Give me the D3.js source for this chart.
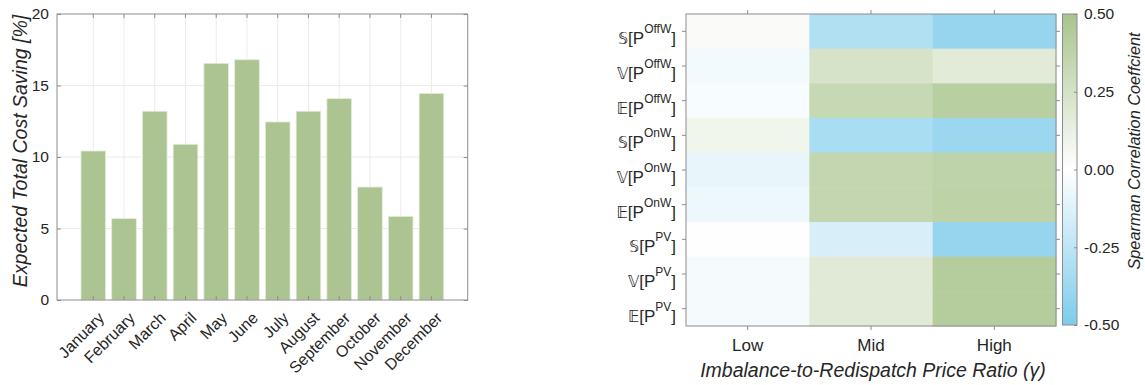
<!DOCTYPE html>
<html>
<head>
<meta charset="utf-8">
<title>Cost saving and correlation</title>
<script src="https://cdn.jsdelivr.net/npm/d3@7"></script>
<style>
  body { margin: 0; background: #fff; }
  svg { font-family: "Liberation Sans", Arial, sans-serif; }
  .rowlab { opacity: 0.99; }
</style>
</head>
<body>
<script>
// bar chart data
var months = ["January", "February", "March", "April", "May", "June",
              "July", "August", "September", "October", "November", "December"];
var saving = [10.42, 5.69, 13.2, 10.89, 16.55, 16.8, 12.45, 13.2, 14.08, 7.9, 5.85, 14.45];
var savingTicks = [0, 5, 10, 15, 20];

// heatmap data (rows top -> bottom, columns Low / Mid / High)
var rowStat = ["\u{1D54A}", "\u{1D54D}", "\u{1D53C}", "\u{1D54A}", "\u{1D54D}", "\u{1D53C}", "\u{1D54A}", "\u{1D54D}", "\u{1D53C}"];
var rowSup = ["OffW", "OffW", "OffW", "OnW", "OnW", "OnW", "PV", "PV", "PV"];
var ratioCats = ["Low", "Mid", "High"];
var rhoLow  = [0.03, -0.05, -0.03, 0.08, -0.09, -0.07, 0.01, -0.04, -0.04];
var rhoMid  = [-0.30, 0.24, 0.33, -0.33, 0.35, 0.35, -0.15, 0.18, 0.18];
var rhoHigh = [-0.40, 0.17, 0.41, -0.38, 0.37, 0.38, -0.40, 0.43, 0.43];
var cbarTicks = [-0.5, -0.25, 0, 0.25, 0.5];

var W = 1145, H = 385;
var axisCol = "#8c8c8c", textCol = "#262626", gridCol = "#ebebeb";
var green = "#a9c48d", blue = "#7dcbeb";
var numSize = 15.5, wordSize = 17, labelSize = 19.5;

var svg = d3.select("body").append("svg")
    .attr("width", W).attr("height", H);

// ---------- left: bar chart ----------
var L = {left: 57, right: 467.7, top: 14, bottom: 300};
var x = d3.scaleBand().domain(months).range([L.left, L.right])
    .paddingInner(0.2).paddingOuter(0.78);
var y = d3.scaleLinear().domain([0, 20]).range([L.bottom, L.top]);

var gL = svg.append("g");

// grid
gL.selectAll(".vg").data(months).enter().append("line")
    .attr("x1", d => x(d) + x.bandwidth() / 2).attr("x2", d => x(d) + x.bandwidth() / 2)
    .attr("y1", L.top).attr("y2", L.bottom)
    .attr("stroke", gridCol);
gL.selectAll(".hg").data(savingTicks.slice(1, -1)).enter().append("line")
    .attr("x1", L.left).attr("x2", L.right)
    .attr("y1", d => y(d)).attr("y2", d => y(d))
    .attr("stroke", gridCol);

// bars
gL.selectAll("rect.bar").data(saving).enter().append("rect")
    .attr("class", "bar")
    .attr("x", (d, i) => x(months[i]))
    .attr("width", x.bandwidth())
    .attr("y", d => y(d))
    .attr("height", d => L.bottom - y(d))
    .attr("fill", "#abc491")
    .attr("stroke", "#e4ecda").attr("stroke-width", 0.8);

// box
gL.append("rect")
    .attr("x", L.left).attr("y", L.top)
    .attr("width", L.right - L.left).attr("height", L.bottom - L.top)
    .attr("fill", "none").attr("stroke", axisCol);

// inward ticks on all sides
gL.append("g").attr("transform", "translate(0," + L.bottom + ")")
    .call(d3.axisBottom(x).tickSizeInner(-4).tickSizeOuter(0).tickFormat(""));
gL.append("g").attr("transform", "translate(0," + L.top + ")")
    .call(d3.axisTop(x).tickSizeInner(-4).tickSizeOuter(0).tickFormat(""));
gL.append("g").attr("transform", "translate(" + L.left + ",0)")
    .call(d3.axisLeft(y).tickValues(savingTicks).tickSizeInner(-4).tickSizeOuter(0).tickPadding(8));
gL.append("g").attr("transform", "translate(" + L.right + ",0)")
    .call(d3.axisRight(y).tickValues(savingTicks).tickSizeInner(-4).tickSizeOuter(0).tickFormat(""));
gL.selectAll(".domain").remove();
gL.selectAll(".tick line").attr("stroke", axisCol);
gL.selectAll(".tick text").attr("fill", textCol).attr("font-size", numSize)
    .attr("font-family", "Liberation Sans, Arial, sans-serif");

// month labels
gL.selectAll("text.month").data(months).enter().append("text")
    .attr("class", "month")
    .attr("transform", d => "translate(" + (x(d) + x.bandwidth() / 2 + 8) + "," + (L.bottom + 15) + ") rotate(-45)")
    .attr("text-anchor", "end").attr("dy", "0.35em")
    .attr("font-size", 16).attr("fill", textCol)
    .text(d => d);

gL.append("text")
    .attr("transform", "translate(27,151) rotate(-90)")
    .attr("text-anchor", "middle")
    .attr("font-size", labelSize).attr("font-style", "italic").attr("fill", textCol)
    .text("Expected Total Cost Saving [%]");

// ---------- right: heatmap ----------
var R = {left: 686, right: 1056, top: 14, bottom: 326};
var cx = d3.scaleBand().domain(ratioCats).range([R.left, R.right]);
var rows = d3.range(rowSup.length);
var cy = d3.scaleBand().domain(rows).range([R.top, R.bottom]);
var color = d3.scaleLinear().domain([-0.5, 0, 0.5]).range([blue, "#ffffff", green]).clamp(true);

var cells = [];
rows.forEach(function (r) {
  [rhoLow, rhoMid, rhoHigh].forEach(function (col, c) {
    cells.push({row: r, cat: ratioCats[c], v: col[r]});
  });
});

var gR = svg.append("g");
gR.selectAll("rect.cell").data(cells).enter().append("rect")
    .attr("class", "cell")
    .attr("x", d => cx(d.cat)).attr("y", d => cy(d.row))
    .attr("width", cx.bandwidth() + 0.5).attr("height", cy.bandwidth() + 0.5)
    .attr("fill", d => color(d.v));

gR.append("rect")
    .attr("x", R.left).attr("y", R.top)
    .attr("width", R.right - R.left).attr("height", R.bottom - R.top)
    .attr("fill", "none").attr("stroke", axisCol);

// outward ticks
gR.append("g").attr("transform", "translate(0," + R.bottom + ")")
    .call(d3.axisBottom(cx).tickSizeInner(4).tickSizeOuter(0).tickPadding(9));
gR.append("g").attr("transform", "translate(0," + R.top + ")")
    .call(d3.axisTop(cx).tickSizeInner(4).tickSizeOuter(0).tickFormat(""));
gR.append("g").attr("transform", "translate(" + R.left + ",0)")
    .call(d3.axisLeft(cy).tickSizeInner(4).tickSizeOuter(0).tickFormat(""));
gR.append("g").attr("transform", "translate(" + R.right + ",0)")
    .call(d3.axisRight(cy).tickSizeInner(4).tickSizeOuter(0).tickFormat(""));
gR.selectAll(".domain").remove();
gR.selectAll(".tick line").attr("stroke", axisCol);
gR.selectAll(".tick text").attr("fill", textCol).attr("font-size", wordSize)
    .attr("font-family", "Liberation Sans, Arial, sans-serif");

// row labels like S[P^OffW]
var rl = gR.selectAll("text.rowlab").data(rows).enter().append("text")
    .attr("class", "rowlab")
    .attr("x", R.left - 10)
    .attr("y", d => cy(d) + cy.bandwidth() / 2 + 13)
    .attr("text-anchor", "end")
    .attr("fill", textCol).attr("font-size", 17);
rl.append("tspan").attr("font-family", "DejaVu Sans, sans-serif")
    .attr("font-size", 15.5).text(d => rowStat[d]);
rl.append("tspan").text("[P");
rl.append("tspan").attr("font-size", 12).attr("dy", -11).text(d => rowSup[d]);
rl.append("tspan").attr("dy", 11).text("]");

gR.append("text")
    .attr("x", 873).attr("y", 376.5)
    .attr("text-anchor", "middle")
    .attr("font-size", labelSize).attr("font-style", "italic").attr("fill", textCol)
    .text("Imbalance-to-Redispatch Price Ratio (\u03B3)");

// ---------- colorbar ----------
var C = {left: 1062.5, right: 1077, top: 14, bottom: 325};
var cs = d3.scaleLinear().domain([-0.5, 0.5]).range([C.bottom, C.top]);
var grad = svg.append("defs").append("linearGradient")
    .attr("id", "cbar").attr("x1", 0).attr("x2", 0).attr("y1", 1).attr("y2", 0);
grad.selectAll("stop").data([-0.5, 0, 0.5]).enter().append("stop")
    .attr("offset", d => (d + 0.5))
    .attr("stop-color", d => color(d));

var gC = svg.append("g");
gC.append("rect")
    .attr("x", C.left).attr("y", C.top)
    .attr("width", C.right - C.left).attr("height", C.bottom - C.top)
    .attr("fill", "url(#cbar)").attr("stroke", axisCol);
gC.append("g").attr("transform", "translate(" + C.right + ",0)")
    .call(d3.axisRight(cs).tickValues(cbarTicks).tickFormat(d3.format(".2f"))
      .tickSizeInner(-3).tickSizeOuter(0).tickPadding(7));
gC.selectAll(".domain").remove();
gC.selectAll(".tick line").attr("stroke", axisCol);
gC.selectAll(".tick text").attr("fill", textCol).attr("font-size", numSize)
    .attr("font-family", "Liberation Sans, Arial, sans-serif")
    .text(d => d3.format(".2f")(d).replace("\u2212", "-"));

gC.append("text")
    .attr("transform", "translate(1140,151) rotate(-90)")
    .attr("text-anchor", "middle")
    .attr("font-size", 16.3).attr("font-style", "italic").attr("fill", textCol)
    .text("Spearman Correlation Coeffcient");
</script>
</body>
</html>
